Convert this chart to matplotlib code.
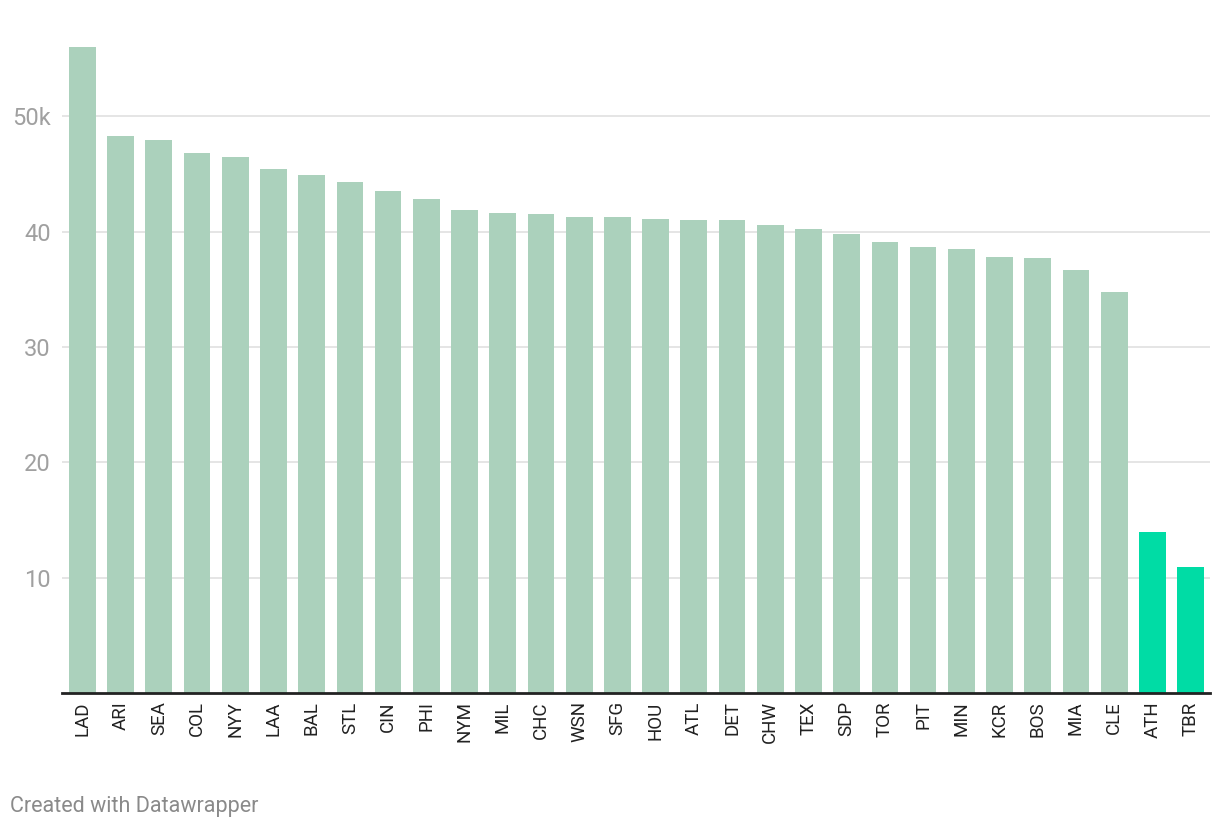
import numpy as np
import matplotlib.pyplot as plt

teams = ['LAD', 'ARI', 'SEA', 'COL', 'NYY', 'LAA', 'BAL', 'STL', 'CIN', 'PHI',
         'NYM', 'MIL', 'CHC', 'WSN', 'SFG', 'HOU', 'ATL', 'DET', 'CHW', 'TEX',
         'SDP', 'TOR', 'PIT', 'MIN', 'KCR', 'BOS', 'MIA', 'CLE', 'ATH', 'TBR']
attendance = [56.0, 48.3, 47.9, 46.8, 46.5, 45.4, 44.9, 44.3, 43.5, 42.8,
              41.9, 41.6, 41.5, 41.3, 41.3, 41.1, 41.0, 41.0, 40.6, 40.2,
              39.8, 39.1, 38.7, 38.5, 37.8, 37.7, 36.7, 34.8, 14.0, 10.9]
highlight = ['ATH', 'TBR']
yticks = [10, 20, 30, 40, 50]
ytick_labels = ['10', '20', '30', '40', '50k']

plt.rcParams['font.family'] = ['Roboto', 'DejaVu Sans']

fig = plt.figure(figsize=(12.2, 8.3), dpi=100)
ax = fig.add_axes([62 / 1220, 137 / 830, 1148 / 1220, 669 / 830])

colors = ['#00dca5' if t in highlight else '#abd1bc' for t in teams]
x = np.arange(len(teams))
ax.bar(x, attendance, width=0.7, color=colors, zorder=2)

ax.set_xlim(-0.533, len(teams) - 1 + 0.507)
ax.set_ylim(0, 58)
ax.set_yticks(yticks)
ax.set_yticklabels(ytick_labels)
ax.grid(axis='y', color='#e3e3e3', linewidth=1.3, zorder=0)
ax.set_xticks(x)
ax.set_xticklabels(teams, rotation=90, fontsize=13.5, color='#222222')

for s in ['top', 'right', 'left']:
    ax.spines[s].set_visible(False)
ax.spines['bottom'].set_color('#222222')
ax.spines['bottom'].set_linewidth(2)
ax.spines['bottom'].set_zorder(3)

ax.tick_params(axis='x', length=0, pad=6)
ax.tick_params(axis='y', length=0, pad=8, labelsize=17, labelcolor='#a0a0a0')

fig.text(10 / 1220, 1 - 806 / 830, 'Created with Datawrapper', fontsize=15.5,
         color='#8a8a8a', va='center', ha='left')

fig.savefig('out.png', dpi=100)
